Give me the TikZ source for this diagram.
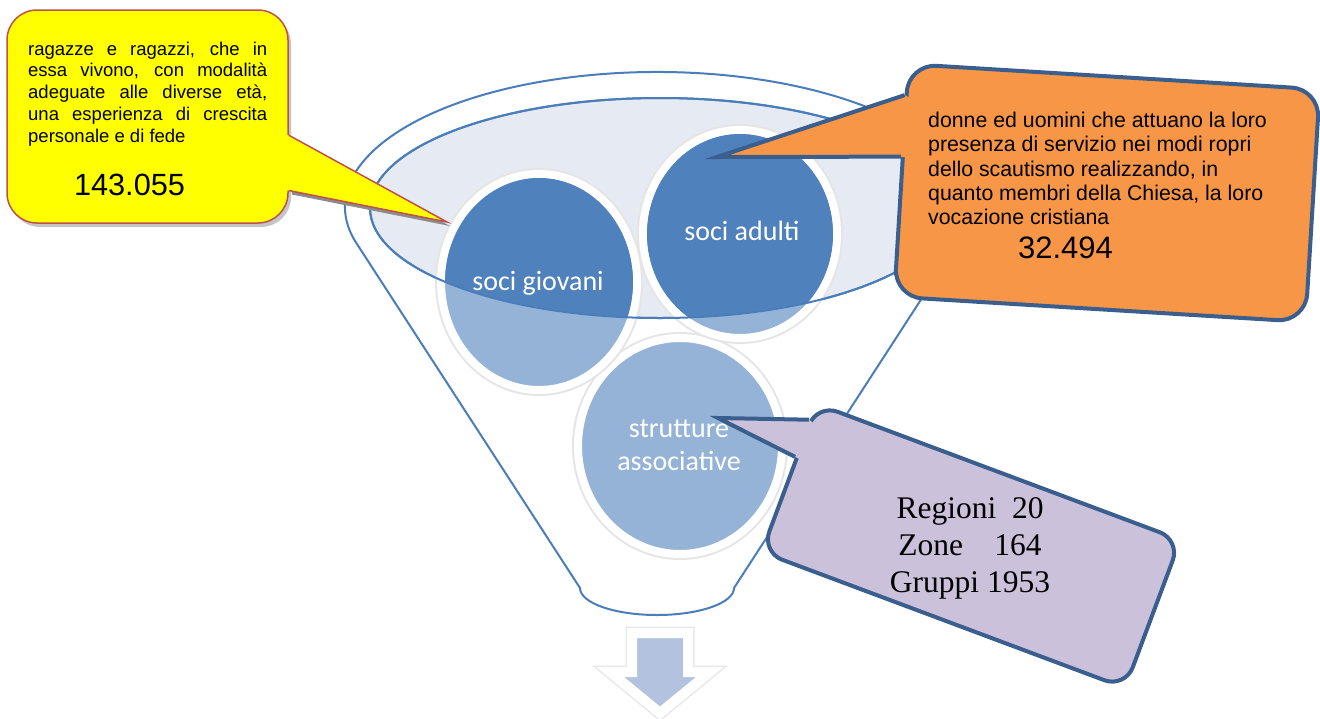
\documentclass[tikz,border=0pt]{standalone}
\usepackage{fontspec}
\usepackage{tikz}
\usetikzlibrary{calc,shapes.geometric,shadows}
\newfontfamily\arialfont{Liberation Sans}
\newfontfamily\calibrifont{Carlito}
\newfontfamily\timesfont{Liberation Serif}
\definecolor{funnelblue}{HTML}{4A7EBB}
\definecolor{innerfill}{HTML}{E6EAF3}
\definecolor{darkdisc}{HTML}{4F81BD}
\definecolor{lightdisc}{HTML}{95B3D7}
\definecolor{calloutblue}{HTML}{3A5F8E}
\definecolor{yellowfill}{HTML}{FFFF00}
\definecolor{yellowline}{HTML}{C0504D}
\definecolor{orangefill}{HTML}{F79646}
\definecolor{lilacfill}{HTML}{CCC1DA}
\definecolor{arrowfill}{HTML}{B3C3DF}
\tolerance=10000
\hbadness=10000

\begin{document}
\begin{tikzpicture}[x=1pt,y=-1pt]
	\tikzset{funnel line/.style={draw=funnelblue,line width=2pt}}
	\tikzset{disc/.style={ellipse,inner sep=0pt,preaction={draw=black!10,line width=12pt},draw=white,line width=8pt,fill=lightdisc}}
	\tikzset{disc text/.style={inner sep=0pt,text=white,align=center,font=\calibrifont\fontsize{28}{33}\selectfont}}
	\tikzset{callout box/.style={rectangle,inner sep=0pt,draw=calloutblue,line width=4pt}}
	\tikzset{yellow box/.style={rectangle,inner sep=0pt,rounded corners=30pt,fill=yellowfill,draw=yellowline,line width=1.5pt,drop shadow={shadow xshift=3pt,shadow yshift=-4pt,fill=black!45}}}
	\tikzset{arial text/.style 2 args={inner sep=0pt,font=\arialfont\fontsize{#1}{#2}\selectfont}}
	\useasboundingbox (0,0) rectangle (1320,718);

	\draw[funnel line,fill=white] (580,588) -- ($(657,207)+(165:312 and 135)$) arc[start angle=165,end angle=375,x radius=312,y radius=135] -- (734,588) arc[start angle=0,end angle=180,x radius=77,y radius=27] -- cycle;
	\draw[funnel line,fill=innerfill] (660,208) ellipse [x radius=290,y radius=110];

	\node[disc,minimum width=204pt,minimum height=216pt] (strutture) at (680,446) {};
	\node[disc,minimum width=196pt,minimum height=216pt] (giovani) at (539,282) {};
	\node[disc,minimum width=194pt,minimum height=208pt] (adulti) at (740,234) {};
	\begin{scope}
		\clip (660,208) ellipse [x radius=290,y radius=110];
		\fill[darkdisc] (giovani.center) ellipse [x radius=94,y radius=104];
		\fill[darkdisc] (adulti.center) ellipse [x radius=93,y radius=100];
	\end{scope}
	\draw[funnel line] (660,208) ellipse [x radius=290,y radius=110];
	\node[disc text,anchor=base] (giovanitext) at (538,290) {soci giovani};
	\node[disc text,anchor=base] (adultitext) at (742,240) {soci adulti};
	\node[disc text,anchor=north] (strutturetext) at (679,420) {strutture\\associative};

	\draw[black!9,line width=13pt,fill=arrowfill,line join=miter] (632,633) -- (688,633) -- (688,672) -- (710,672) -- (660,713) -- (610,672) -- (632,672) -- cycle;
	\draw[white,line width=10pt,fill=arrowfill,line join=miter] (632,633) -- (688,633) -- (688,672) -- (710,672) -- (660,713) -- (610,672) -- (632,672) -- cycle;

	\node[yellow box,minimum width=281pt,minimum height=213pt] (giovbox) at (147.5,116.5) {};
	\coordinate (giovtip) at (447,222);
	\coordinate (giovp1) at ($(giovbox.north east)!0.587!(giovbox.south east)$);
	\coordinate (giovp2) at ($(giovbox.north east)!0.845!(giovbox.south east)$);
	\fill[black!45] ($(giovp1)+(3,4)$) -- ($(giovtip)+(3,4)$) -- ($(giovp2)+(3,4)$) -- cycle;
	\fill[yellowfill] (giovp1) -- (giovtip) -- (giovp2) -- ($(giovp2)+(-6,0)$) -- ($(giovp1)+(-6,0)$) -- cycle;
	\draw[yellowline,line width=1.5pt,line join=miter] (giovp1) -- (giovtip) -- (giovp2);
	\node[arial text={18.5}{21.75},anchor=north west,text width=239pt,align=justify] (giovdesc) at (28,41.5) {ragazze e ragazzi, che in\linebreak essa vivono, con modalità\linebreak adeguate alle diverse età,\linebreak una esperienza di crescita\linebreak personale e di fede};
	\node[arial text={30.7}{36},anchor=base] (giovnum) at (129.5,195) {143.055};

	\node[callout box,rounded corners=28pt,fill=orangefill,rotate=-3.5,minimum width=412pt,minimum height=233pt] (adultbox) at (1107,193) {};
	\coordinate (adulttip) at (717,157);
	\coordinate (adultp1) at ($(adultbox.north west)!0.14!(adultbox.south west)$);
	\coordinate (adultp2) at ($(adultbox.north west)!0.40!(adultbox.south west)$);
	\fill[orangefill] (adultp1) -- (adulttip) -- (adultp2) -- ($(adultp2)!8pt!(adultbox.center)$) -- ($(adultp1)!8pt!(adultbox.center)$) -- cycle;
	\draw[calloutblue,line width=4pt,line join=miter] (adultp1) -- (adulttip) -- (adultp2);
	\node[arial text={21.3}{24.2},anchor=north west,align=left] (adultdesc) at (928,112) {donne ed uomini che attuano la loro\\presenza di servizio nei modi ropri\\dello scautismo realizzando, in\\quanto membri della Chiesa, la loro\\vocazione cristiana};
	\node[arial text={31}{36},anchor=base] (adultnum) at (1065.5,258) {32.494};

	\node[callout box,rounded corners=22pt,fill=lilacfill,rotate=-20.5,minimum width=388pt,minimum height=158pt] (strutbox) at (971,546) {};
	\coordinate (struttip) at (718,418);
	\coordinate (strutp1) at ($(strutbox.north west)!0.12!(strutbox.south west)$);
	\coordinate (strutp2) at ($(strutbox.north west)!0.365!(strutbox.south west)$);
	\fill[lilacfill] (strutp1) -- (struttip) -- (strutp2) -- ($(strutp2)!8pt!(strutbox.center)$) -- ($(strutp1)!8pt!(strutbox.center)$) -- cycle;
	\draw[calloutblue,line width=4pt,line join=miter] (strutp1) -- (struttip) -- (strutp2);
	\node[inner sep=0pt,anchor=north,align=center,font=\timesfont\fontsize{31.5}{37}\selectfont] (strutdesc) at (970,497) {Regioni~~20\\Zone~~~~164\\Gruppi 1953};
\end{tikzpicture}
\end{document}
